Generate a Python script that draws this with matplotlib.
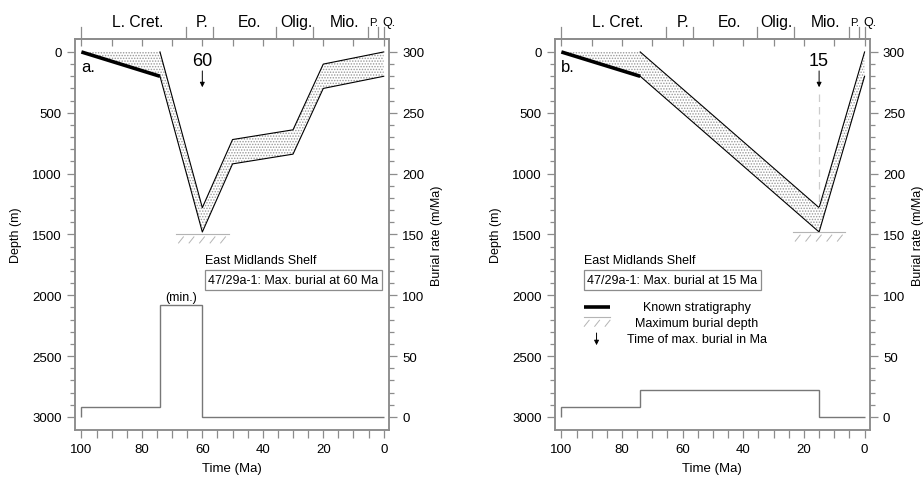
import numpy as np
import matplotlib
matplotlib.use('Agg')
import matplotlib.pyplot as plt
from matplotlib import transforms

plt.rcParams['font.family'] = ['Liberation Sans', 'DejaVu Sans']
plt.rcParams['hatch.linewidth'] = 0.7

# stratigraphic column along the top
stage_names = ['L. Cret.', 'P.', 'Eo.', 'Olig.', 'Mio.', 'P.', 'Q.']
stage_label_x = [81.5, 60, 44.5, 29, 13, 3.3, -1.8]
stage_sizes = [11.3, 11.3, 11.3, 11.3, 11.3, 8, 9]
stage_bounds = [100, 65.5, 56.5, 35.5, 23.3, 5.3, 1.8, 0]

# panel a: 47/29a-1, max burial at 60 Ma
time_a = [100, 74, 60, 50, 30, 20, 0]
top_a = [0, 0, 1280, 720, 640, 100, 0]
base_a = [0, 200, 1480, 920, 840, 300, 200]
rate_edges_a = [0, 60, 74, 100]
rate_a = [0, 92, 8]
tmax_a, dmax_a = 60, 1495

# panel b: 47/29a-1, max burial at 15 Ma
time_b = [100, 74, 15, 0]
top_b = [0, 0, 1280, 0]
base_b = [0, 200, 1480, 200]
rate_edges_b = [0, 15, 74, 100]
rate_b = [0, 22, 8]
tmax_b, dmax_b = 15, 1480

GRAY = '#8c8c8c'
LGRAY = '#b4b4b4'
FS = 9


def hatch_mark(ax, x, d, half, n=5):
    ax.plot([x - half, x + half], [d, d], color=LGRAY, lw=0.8)
    xs = np.linspace(x - half * 0.8, x + half * 0.8, n)
    for xx in xs:
        ax.plot([xx - 0.7, xx + 0.9], [d + 25, d + 75], color=LGRAY, lw=0.7)


def arrow(ax, x, d0, d1):
    ax.annotate('', xy=(x, d1), xytext=(x, d0),
                arrowprops=dict(arrowstyle='-|>', color='k', lw=0.7,
                                mutation_scale=7, shrinkA=0, shrinkB=0))


def panel(ax, t, top, base, edges, rate, tmax, dmax, letter):
    t = np.array(t)
    top = np.array(top)
    base = np.array(base)
    ax.fill(np.r_[t, t[::-1]], np.r_[top, base[::-1]], facecolor='none',
            edgecolor='#999999', hatch='......', linewidth=0)
    ax.plot(t[1:], top[1:], 'k', lw=0.8)
    ax.plot(t[1:], base[1:], 'k', lw=0.8)
    ax.plot(t[:2], base[:2], 'k', lw=2.6, solid_capstyle='butt')
    hatch_mark(ax, tmax, dmax, 8.7)
    ax.text(tmax, 74, str(tmax), ha='center', va='center', fontsize=13)
    arrow(ax, tmax, 156, 290)
    ax.text(100, 120, letter, ha='left', va='center', fontsize=12)

    ax.set_xlim(102.1, -1.7)
    ax.set_ylim(3107, -107)
    ax.set_xticks(np.arange(0, 101, 20))
    ax.set_xticks(np.arange(0, 101, 5), minor=True)
    ax.set_yticks(np.arange(0, 3001, 500))
    ax.set_yticks(np.arange(0, 3001, 100), minor=True)
    ax.tick_params(which='both', color=GRAY, labelsize=FS + 0.5, width=0.9)
    ax.tick_params(which='major', length=6)
    ax.tick_params(which='minor', length=3.5)
    ax.tick_params(axis='x', which='minor', length=5.5)
    for s in ax.spines.values():
        s.set_color(GRAY)
        s.set_linewidth(1.1)
    ax.set_xlabel('Time (Ma)', fontsize=FS + 0.5, labelpad=5)
    ax.set_ylabel('Depth (m)', fontsize=FS, labelpad=7)

    sec = ax.secondary_xaxis('top')
    sec.set_xticks(np.arange(0, 101, 10))
    sec.tick_params(direction='in', length=5, color=GRAY, width=0.9,
                    labeltop=False)
    sec.spines['top'].set_color(GRAY)
    sec.spines['top'].set_linewidth(1.1)

    tr = transforms.blended_transform_factory(ax.transData, ax.transAxes)
    for b in stage_bounds:
        ax.plot([b, b], [1.005, 1.031], color=GRAY, lw=0.9,
                transform=tr, clip_on=False)
    for name, x, fs in zip(stage_names, stage_label_x, stage_sizes):
        ax.text(x, 1.044, name, transform=tr, ha='center', va='center',
                fontsize=fs)

    ax2 = ax.twinx()
    ax2.set_ylim((3000 - 3107) / 10, (3000 + 107) / 10)
    ax2.set_yticks(np.arange(0, 301, 50))
    ax2.set_yticks(np.arange(0, 301, 10), minor=True)
    ax2.tick_params(which='both', color=GRAY, labelsize=FS + 0.5, width=0.9)
    ax2.tick_params(which='major', length=6)
    ax2.tick_params(which='minor', length=3.5)
    for s in ax2.spines.values():
        s.set_color(GRAY)
        s.set_linewidth(1.1)
    ax2.set_ylabel('Burial rate (m/Ma)', fontsize=FS, labelpad=5)
    ax2.stairs(rate, edges, baseline=0, color='#777777', lw=1.0)
    return ax2


fig = plt.figure(figsize=(9.23, 4.81), dpi=100)
axa = fig.add_axes([0.0813, 0.104, 0.340, 0.813])
axb = fig.add_axes([0.6013, 0.104, 0.341, 0.813])

ra = panel(axa, time_a, top_a, base_a, rate_edges_a, rate_a, tmax_a, dmax_a, 'a.')
rb = panel(axb, time_b, top_b, base_b, rate_edges_b, rate_b, tmax_b, dmax_b, 'b.')

box = dict(boxstyle='square,pad=0.3', facecolor='white', edgecolor=GRAY, lw=0.9)

# panel a annotations
axa.text(59, 1709, 'East Midlands Shelf', ha='left', va='center', fontsize=FS)
axa.text(58.0, 1873, '47/29a-1: Max. burial at 60 Ma', ha='left', va='center',
         fontsize=FS, bbox=box)
axa.text(67, 2010, '(min.)', ha='center', va='center', fontsize=FS)

# panel b annotations
axb.plot([tmax_b, tmax_b], [345, 1280], color='#cccccc', lw=0.9, ls=(0, (6, 4)))
axb.text(92.4, 1709, 'East Midlands Shelf', ha='left', va='center', fontsize=FS)
axb.text(91.4, 1873, '47/29a-1: Max. burial at 15 Ma', ha='left', va='center',
         fontsize=FS, bbox=box)

# legend
axb.plot([92.4, 83.8], [2095, 2095], 'k', lw=2.6, solid_capstyle='butt')
axb.text(55.3, 2095, 'Known stratigraphy', ha='center', va='center', fontsize=FS)
hatch_mark(axb, 88.1, 2180, 4.3, n=3)
axb.text(55.3, 2227, 'Maximum burial depth', ha='center', va='center', fontsize=FS)
arrow(axb, 88.4, 2310, 2410)
axb.text(55.3, 2358, 'Time of max. burial in Ma', ha='center', va='center', fontsize=FS)

fig.savefig('out.png', dpi=100)
